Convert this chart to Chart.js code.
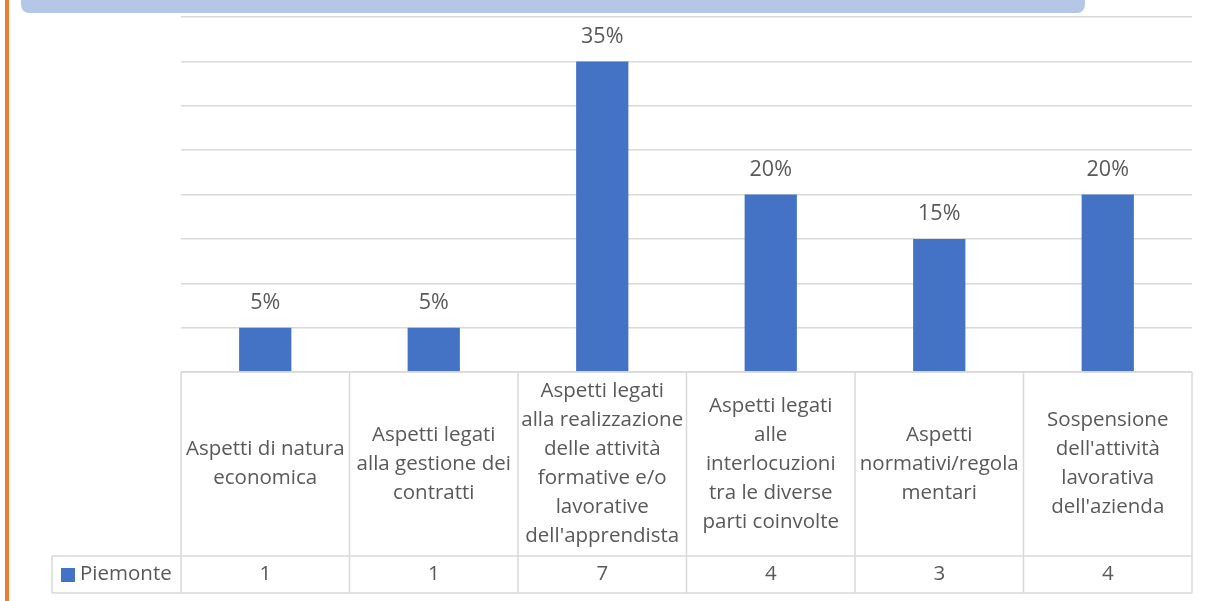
<!DOCTYPE html>
<html lang="it">
<head>
<meta charset="utf-8">
<title>Piemonte</title>
<script src="https://cdn.jsdelivr.net/npm/chart.js@4"></script>
<style>
	html, body { margin: 0; padding: 0; background: #fff; }
	#grafico { display: block; }
</style>
</head>
<body>
<canvas id="grafico" width="1208" height="601"></canvas>
<script>
// Categorie (già spezzate in righe come nella tabella dati)
const categorie = [
	["Aspetti di natura", "economica"],
	["Aspetti legati", "alla gestione dei", "contratti"],
	["Aspetti legati", "alla realizzazione", "delle attività", "formative e/o", "lavorative", "dell'apprendista"],
	["Aspetti legati", "alle", "interlocuzioni", "tra le diverse", "parti coinvolte"],
	["Aspetti", "normativi/regola", "mentari"],
	["Sospensione", "dell'attività", "lavorativa", "dell'azienda"]
];
const serie = "Piemonte";
const risposte = [1, 1, 7, 4, 3, 4];        // valori nella tabella
const percentuali = [5, 5, 35, 20, 15, 20]; // altezza delle barre (%)
const scalaMax = 40;
const scalaPasso = 5;

const BLU = "#4472c4";
const GRIGIO_TESTO = "#595959";
const GRIGIO_LINEE = "#d9d9d9";
const FONT = "'Open Sans', 'Noto Sans', sans-serif";

// Banda in alto e filetto arancione a sinistra
const cornice = {
	id: "cornice",
	beforeDraw(chart) {
		const ctx = chart.ctx;
		ctx.save();
		ctx.fillStyle = "#ed7d31";
		ctx.fillRect(5, 0, 4, chart.height);
		ctx.fillStyle = "#b4c7e7";
		ctx.beginPath();
		ctx.roundRect(21, -10, 1064, 23, 8);
		ctx.fill();
		ctx.restore();
	}
};

// Etichette percentuali sopra le barre
const etichette = {
	id: "etichette",
	afterDatasetsDraw(chart) {
		const ctx = chart.ctx;
		const meta = chart.getDatasetMeta(0);
		ctx.save();
		ctx.font = "21.5px " + FONT;
		ctx.fillStyle = GRIGIO_TESTO;
		ctx.textAlign = "center";
		ctx.textBaseline = "middle";
		meta.data.forEach((bar, i) => {
			ctx.fillText(percentuali[i] + "%", bar.x, bar.y - 25);
		});
		ctx.restore();
	}
};

// Tabella dati sotto l'asse delle categorie
const tabella = {
	id: "tabella",
	afterDraw(chart) {
		const ctx = chart.ctx;
		const x = chart.scales.x;
		const area = chart.chartArea;
		const larg = (area.right - area.left) / categorie.length;
		const top = area.bottom;
		const rigaY = 556;
		const fondo = 593;
		const legSx = 52;

		ctx.save();
		ctx.strokeStyle = GRIGIO_LINEE;
		ctx.lineWidth = 1.5;
		ctx.beginPath();
		ctx.moveTo(area.left, top); ctx.lineTo(area.right, top);
		ctx.moveTo(legSx, rigaY); ctx.lineTo(area.right, rigaY);
		ctx.moveTo(legSx, fondo); ctx.lineTo(area.right, fondo);
		ctx.moveTo(legSx, rigaY); ctx.lineTo(legSx, fondo);
		for (let i = 0; i <= categorie.length; i++) {
			const bx = area.left + i * larg;
			ctx.moveTo(bx, top); ctx.lineTo(bx, fondo);
		}
		ctx.stroke();

		ctx.fillStyle = GRIGIO_TESTO;
		ctx.font = "20.5px " + FONT;
		ctx.textAlign = "center";
		ctx.textBaseline = "middle";
		const passoRiga = 29;
		const centro = (top + rigaY) / 2;
		categorie.forEach((righe, i) => {
			const cx = x.getPixelForValue(i);
			const y0 = centro - (righe.length - 1) * passoRiga / 2;
			righe.forEach((r, j) => ctx.fillText(r, cx, y0 + j * passoRiga));
			ctx.fillText(String(risposte[i]), cx, (rigaY + fondo) / 2);
		});

		// legenda nella prima colonna
		ctx.fillStyle = BLU;
		ctx.fillRect(61, 568, 14, 14);
		ctx.fillStyle = GRIGIO_TESTO;
		ctx.textAlign = "left";
		ctx.fillText(serie, 80, (rigaY + fondo) / 2);
		ctx.restore();
	}
};

new Chart(document.getElementById("grafico"), {
	type: "bar",
	data: {
		labels: categorie,
		datasets: [{
			label: serie,
			data: percentuali,
			backgroundColor: BLU,
			categoryPercentage: 1,
			barPercentage: 0.31
		}]
	},
	options: {
		responsive: false,
		animation: false,
		layout: { padding: { left: 181, right: 16, top: 17, bottom: 229 } },
		scales: {
			x: { display: false },
			y: {
				min: 0,
				max: scalaMax,
				ticks: { display: false, stepSize: scalaPasso },
				border: { display: false },
				grid: { color: GRIGIO_LINEE, lineWidth: 1.5, drawTicks: false }
			}
		},
		plugins: {
			legend: { display: false },
			tooltip: { enabled: false }
		}
	},
	plugins: [cornice, etichette, tabella]
});
</script>
</body>
</html>
